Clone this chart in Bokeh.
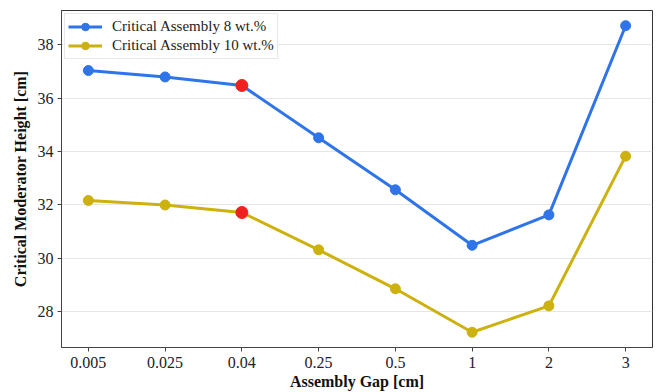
from bokeh.plotting import figure
from bokeh.models import FixedTicker, Range1d, Legend, LegendItem
from bokeh.embed import file_html
from bokeh.resources import INLINE

gaps = ["0.005", "0.025", "0.04", "0.25", "0.5", "1", "2", "3"]
ca8 = [37.03, 36.79, 36.47, 34.51, 32.56, 30.48, 31.62, 38.71]
ca10 = [32.16, 31.99, 31.71, 30.31, 28.85, 27.22, 28.21, 33.82]
highlight_idx = 2
y_ticks = [28, 30, 32, 34, 36, 38]

FONT = "Liberation Serif"
BLUE = "#2f74e9"
GOLD = "#cdb10e"
RED = "#f0201e"

xs = list(range(len(gaps)))

p = figure(width=657, height=392, output_backend="svg", toolbar_location=None,
           x_range=Range1d(-0.35, 7.35), y_range=Range1d(26.65, 39.28),
           min_border_left=61, min_border_right=5, min_border_top=10, min_border_bottom=45)

r1l = p.line(xs, ca8, line_color=BLUE, line_width=3)
r1s = p.scatter(xs, ca8, size=10, fill_color=BLUE, line_color=BLUE)
r2l = p.line(xs, ca10, line_color=GOLD, line_width=3)
r2s = p.scatter(xs, ca10, size=10, fill_color=GOLD, line_color=GOLD)
p.scatter([xs[highlight_idx]] * 2, [ca8[highlight_idx], ca10[highlight_idx]], size=12,
          fill_color=RED, line_color=RED)

legend = Legend(items=[
    LegendItem(label="Critical Assembly 8 wt.%", renderers=[r1l, r1s]),
    LegendItem(label="Critical Assembly 10 wt.%", renderers=[r2l, r2s]),
], location="top_left")
legend.border_line_color = "#e2e2e2"
legend.border_line_alpha = 0.8
legend.background_fill_alpha = 0.8
legend.label_text_font = FONT
legend.label_text_font_size = "15px"
legend.label_text_color = "#222222"
legend.glyph_width = 34
legend.glyph_height = 19
legend.label_height = 19
legend.spacing = 0
legend.padding = 3
legend.margin = 3
legend.label_standoff = 10
p.add_layout(legend)

p.xaxis.ticker = FixedTicker(ticks=xs)
p.xaxis.major_label_overrides = {i: g for i, g in enumerate(gaps)}
p.yaxis.ticker = FixedTicker(ticks=y_ticks)

for ax in [p.xaxis[0], p.yaxis[0]]:
    ax.major_label_text_font = FONT
    ax.major_label_text_font_size = "16px"
    ax.major_label_text_color = "#222222"
    ax.axis_label_text_font = FONT
    ax.axis_label_text_font_size = "16px"
    ax.axis_label_text_font_style = "bold"
    ax.axis_label_text_color = "#111111"
    ax.axis_line_color = "#444444"
    ax.major_tick_line_color = "#444444"
    ax.major_tick_out = 4
    ax.major_tick_in = 0
    ax.minor_tick_line_color = None

p.xaxis.axis_label = "Assembly Gap [cm]"
p.yaxis.axis_label = "Critical Moderator Height [cm]"
p.xaxis.axis_label_standoff = 2
p.yaxis.axis_label_standoff = 6
p.xaxis.major_label_standoff = 5
p.yaxis.major_label_standoff = 4

p.xgrid.grid_line_color = None
p.ygrid.grid_line_color = "#e6e6e6"
p.outline_line_color = "#333333"
p.outline_line_width = 1
p.background_fill_color = "white"
p.border_fill_color = "white"

open("out.html", "w").write(file_html(p, INLINE))
